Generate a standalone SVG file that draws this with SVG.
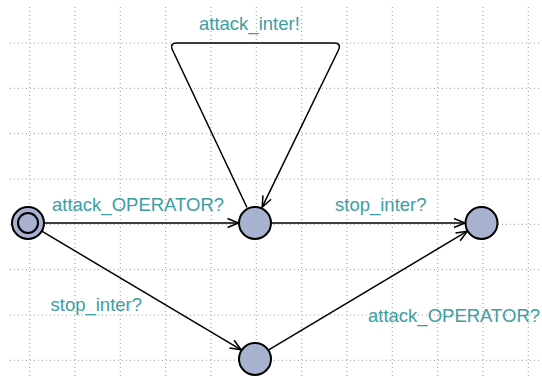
<svg xmlns="http://www.w3.org/2000/svg" width="542" height="377" viewBox="0 0 542 377">
  <style>
    .grid line { stroke: #9a9a9a; stroke-width: 1; stroke-dasharray: 1 3; }
    .loc { fill: #a9b1d1; stroke: #000; stroke-width: 2; }
    .edge { fill: none; stroke: #000; stroke-width: 1.5; marker-end: url(#arrow); }
    .sync { font-family: "Liberation Sans", Arial, sans-serif; font-size: 18.5px; fill: #3c9ea2; }
  </style>
  <defs>
    <marker id="arrow" markerUnits="userSpaceOnUse" markerWidth="16" markerHeight="12" viewBox="-13 -6 16 12" refX="0" refY="0" orient="auto">
      <path d="M -11,-4.5 L 0,0 L -11,4.5" fill="none" stroke="#000" stroke-width="1.5"/>
    </marker>
  </defs>
  <rect width="542" height="377" fill="#fff"/>

  <!-- background grid -->
  <g class="grid">
    <line x1="29.7" y1="7" x2="29.7" y2="377"/>
    <line x1="75" y1="7" x2="75" y2="377"/>
    <line x1="120.3" y1="7" x2="120.3" y2="377"/>
    <line x1="165.7" y1="7" x2="165.7" y2="377"/>
    <line x1="211" y1="7" x2="211" y2="377"/>
    <line x1="256.3" y1="7" x2="256.3" y2="377"/>
    <line x1="301.7" y1="7" x2="301.7" y2="377"/>
    <line x1="347" y1="7" x2="347" y2="377"/>
    <line x1="392.3" y1="7" x2="392.3" y2="377"/>
    <line x1="437.7" y1="7" x2="437.7" y2="377"/>
    <line x1="483" y1="7" x2="483" y2="377"/>
    <line x1="528.3" y1="7" x2="528.3" y2="377"/>
    <line x1="10" y1="43" x2="542" y2="43"/>
    <line x1="10" y1="88.3" x2="542" y2="88.3"/>
    <line x1="10" y1="133.7" x2="542" y2="133.7"/>
    <line x1="10" y1="179" x2="542" y2="179"/>
    <line x1="10" y1="224.3" x2="542" y2="224.3"/>
    <line x1="10" y1="269.7" x2="542" y2="269.7"/>
    <line x1="10" y1="315" x2="542" y2="315"/>
    <line x1="10" y1="360.3" x2="542" y2="360.3"/>
  </g>

  <!-- transitions -->
  <g id="edges">
    <path class="edge" d="M 44,223 L 238.5,223"/>
    <path class="edge" d="M 271,223 L 465,223"/>
    <path class="edge" d="M 41.8,231.2 L 241.2,349.8"/>
    <path class="edge" d="M 268.7,349.8 L 467.3,231.2"/>
    <path class="edge" d="M 247,207.5 L 172.5,50 Q 169.5,43 177,43 L 334,43 Q 341.5,43 338.5,50 L 262.2,207.2"/>
  </g>

  <!-- labels -->
  <g id="labels">
    <text class="sync" x="52" y="210.5">attack_OPERATOR?</text>
    <text class="sync" x="335" y="210.5">stop_inter?</text>
    <text class="sync" x="50.5" y="311">stop_inter?</text>
    <text class="sync" x="368" y="322">attack_OPERATOR?</text>
    <text class="sync" x="199" y="29.5">attack_inter!</text>
  </g>

  <!-- locations -->
  <g id="init">
    <circle class="loc" cx="28" cy="223" r="16"/>
    <circle cx="28" cy="223" r="10" fill="none" stroke="#000" stroke-width="2"/>
  </g>
  <g id="attacked">
    <circle class="loc" cx="255" cy="223" r="16"/>
  </g>
  <g id="stopped">
    <circle class="loc" cx="481.5" cy="223" r="16"/>
  </g>
  <g id="waiting">
    <circle class="loc" cx="255" cy="359" r="16"/>
  </g>
</svg>
